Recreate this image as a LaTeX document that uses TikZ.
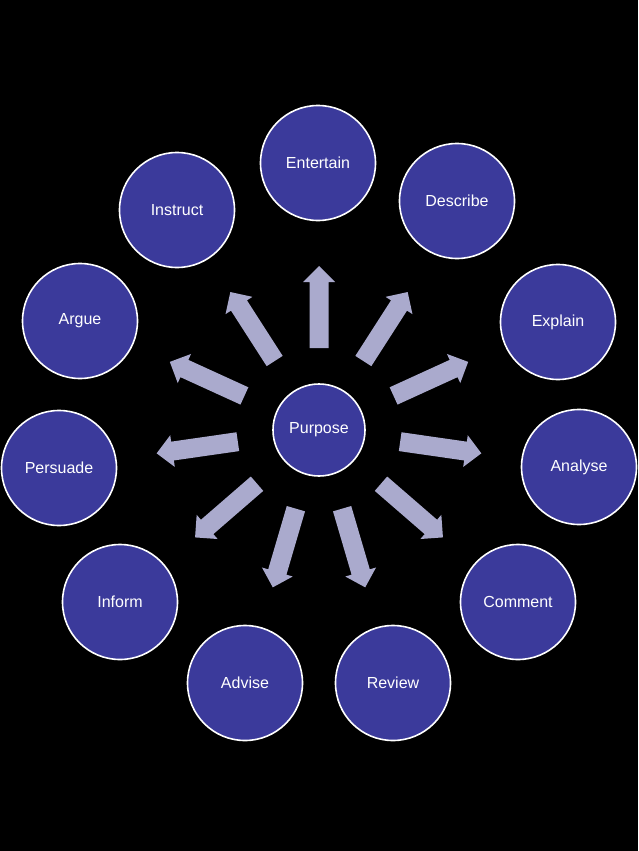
\documentclass[tikz,border=0pt]{standalone}
\usepackage{fontspec}
\setmainfont{Liberation Sans}
\definecolor{circblue}{RGB}{59,58,155}
\definecolor{arrowlav}{RGB}{170,170,205}
\tikzset{
  bubble/.style={circle, draw=white, line width=1.6pt, fill=circblue, text=white,
    minimum size=115pt, inner sep=0pt, font=\fontsize{16}{19}\selectfont},
  hub/.style={bubble, minimum size=92pt},
  blockarrow/.style={fill=arrowlav}
}
\def\arrowshape{(82,-9.5) -- (148,-9.5) -- (148,-16) -- (164,0) -- (148,16) -- (148,9.5) -- (82,9.5) -- cycle}

\begin{document}
\begin{tikzpicture}[x=1pt,y=-1pt]
				\fill[black] (0,0) rectangle (638,851);
				
				\node[hub] (purpose) at (319,430) {Purpose};
				
				\node[bubble] (entertain) at (318,163) {Entertain};
				\node[bubble] (describe) at (457,201) {Describe};
				\node[bubble] (explain) at (558,322) {Explain};
				\node[bubble] (analyse) at (579,467) {Analyse};
				\node[bubble] (comment) at (518,602) {Comment};
				\node[bubble] (review) at (393,683) {Review};
				\node[bubble] (advise) at (245,683) {Advise};
				\node[bubble] (inform) at (120,602) {Inform};
				\node[bubble] (persuade) at (59,468) {Persuade};
				\node[bubble] (argue) at (80,321) {Argue};
				\node[bubble] (instruct) at (177,210) {Instruct};
				
				\foreach \i in {0,...,10}
					\fill[blockarrow, shift={(purpose.center)}, rotate={90-\i*360/11}] \arrowshape;
			\end{tikzpicture}
\end{document}
